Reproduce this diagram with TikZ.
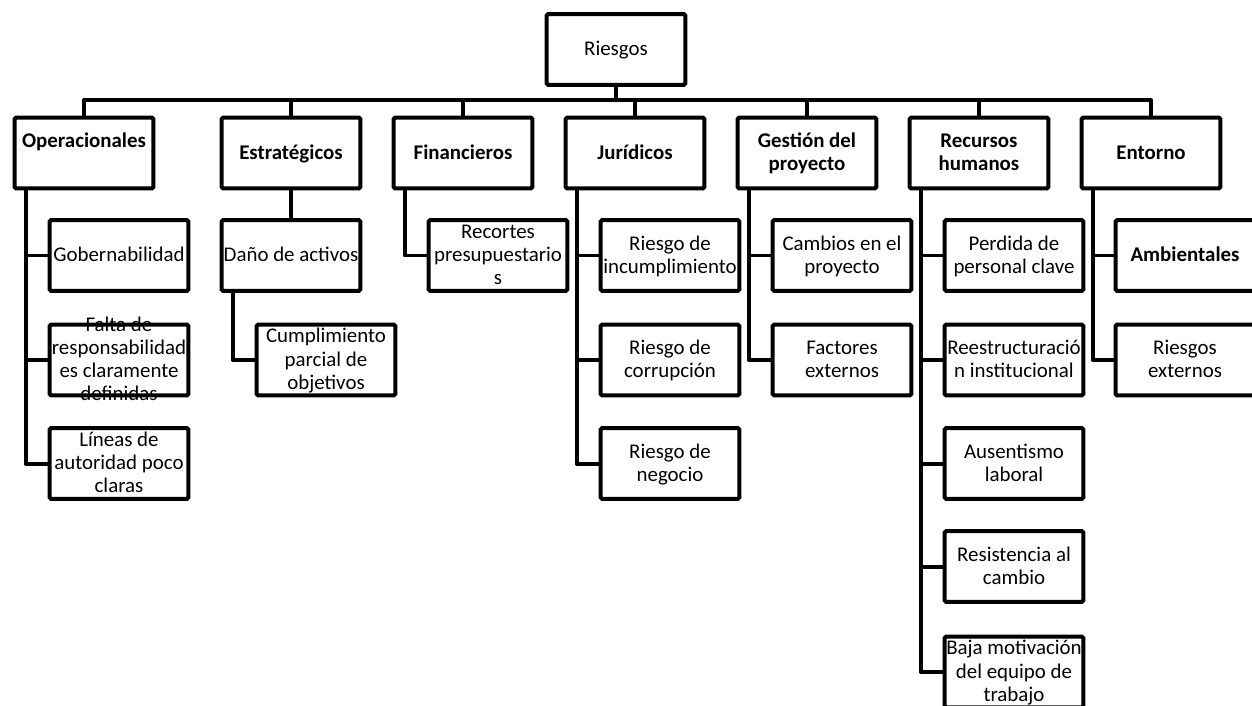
\documentclass[tikz,border=0pt]{standalone}
\usepackage{fontspec}
\setmainfont{Carlito}
\usetikzlibrary{positioning,calc}

% text centred on the box, allowed to run over its border
\newcommand{\boxlines}[1]{\raisebox{-0.06cm}{\vbox to 0pt{\vss\hbox to 0pt{\hss\begin{tabular}{@{}c@{}}#1\end{tabular}\hss}\vss}}}

\tikzset{
  riskbox/.style={draw, line width=0.08cm, rounded corners=1pt, minimum width=2.78cm,
    minimum height=1.42cm, inner sep=0pt, font=\fontsize{11.9}{13.2}\selectfont},
  headbox/.style={riskbox, font=\fontsize{11.9}{13.2}\selectfont\bfseries},
  link/.style={line width=0.08cm, line join=round}
}

\begin{document}
\begin{tikzpicture}[x=0.02cm,y=-0.02cm]
\useasboundingbox (0,0) rectangle (1252,706);

\node[riskbox] (root) at (616,49.5) {\boxlines{Riesgos}};

% first level
\node[headbox] (ope) at (84,153) {\boxlines{Operacionales\\ \mbox{}}};
\node[headbox] (est) at (291,153) {\boxlines{Estratégicos}};
\node[headbox] (fin) at (463,153) {\boxlines{Financieros}};
\node[headbox] (jur) at (635,153) {\boxlines{Jurídicos}};
\node[headbox] (ges) at (807,153) {\boxlines{Gestión del\\proyecto}};
\node[headbox] (rrh) at (979,153) {\boxlines{Recursos\\humanos}};
\node[headbox] (ent) at (1151,153) {\boxlines{Entorno}};

\coordinate (bus) at (616,100);
\draw[link] (root.south) -- (bus);
\foreach \n in {ope,est,fin,jur,ges,rrh,ent}
  \draw[link] (\n.north) |- (bus);

% Operacionales
\node[riskbox] (gob) at (119,255.5) {\boxlines{Gobernabilidad}};
\node[riskbox] (fal) at (119,360) {\boxlines{Falta de\\responsabilidad\\es claramente\\definidas}};
\node[riskbox] (lin) at (119,463.5) {\boxlines{Líneas de\\autoridad poco\\claras}};
\foreach \c in {gob,fal,lin}
  \draw[link] ([xshift=0.26cm]ope.south west) |- (\c.west);

% Estrategicos
\node[riskbox] (dan) at (291,255.5) {\boxlines{Daño de activos}};
\node[riskbox] (cum) at (326,360) {\boxlines{Cumplimiento\\parcial de\\objetivos}};
\draw[link] (est.south) -- (dan.north);
\draw[link] ([xshift=0.26cm]dan.south west) |- (cum.west);

% Financieros
\node[riskbox] (rec) at (498,255.5) {\boxlines{Recortes\\presupuestario\\s}};
\draw[link] ([xshift=0.26cm]fin.south west) |- (rec.west);

% Juridicos
\node[riskbox] (inc) at (670,255.5) {\boxlines{Riesgo de\\incumplimiento}};
\node[riskbox] (cor) at (670,360) {\boxlines{Riesgo de\\corrupción}};
\node[riskbox] (neg) at (670,463.5) {\boxlines{Riesgo de\\negocio}};
\foreach \c in {inc,cor,neg}
  \draw[link] ([xshift=0.26cm]jur.south west) |- (\c.west);

% Gestion del proyecto
\node[riskbox] (cam) at (842,255.5) {\boxlines{Cambios en el\\proyecto}};
\node[riskbox] (fac) at (842,360) {\boxlines{Factores\\externos}};
\foreach \c in {cam,fac}
  \draw[link] ([xshift=0.26cm]ges.south west) |- (\c.west);

% Recursos humanos
\node[riskbox] (per) at (1014,255.5) {\boxlines{Perdida de\\personal clave}};
\node[riskbox] (ree) at (1014,360) {\boxlines{Reestructuració\\n institucional}};
\node[riskbox] (aus) at (1014,463.5) {\boxlines{Ausentismo\\laboral}};
\node[riskbox] (res) at (1014,566.5) {\boxlines{Resistencia al\\cambio}};
\node[riskbox] (baj) at (1014,672) {\boxlines{Baja motivación\\del equipo de\\trabajo}};
\foreach \c in {per,ree,aus,res,baj}
  \draw[link] ([xshift=0.26cm]rrh.south west) |- (\c.west);

% Entorno
\node[headbox] (amb) at (1185,255.5) {\boxlines{Ambientales}};
\node[riskbox] (rex) at (1185,360) {\boxlines{Riesgos\\externos}};
\foreach \c in {amb,rex}
  \draw[link] ([xshift=0.26cm]ent.south west) |- (\c.west);
\end{tikzpicture}
\end{document}
